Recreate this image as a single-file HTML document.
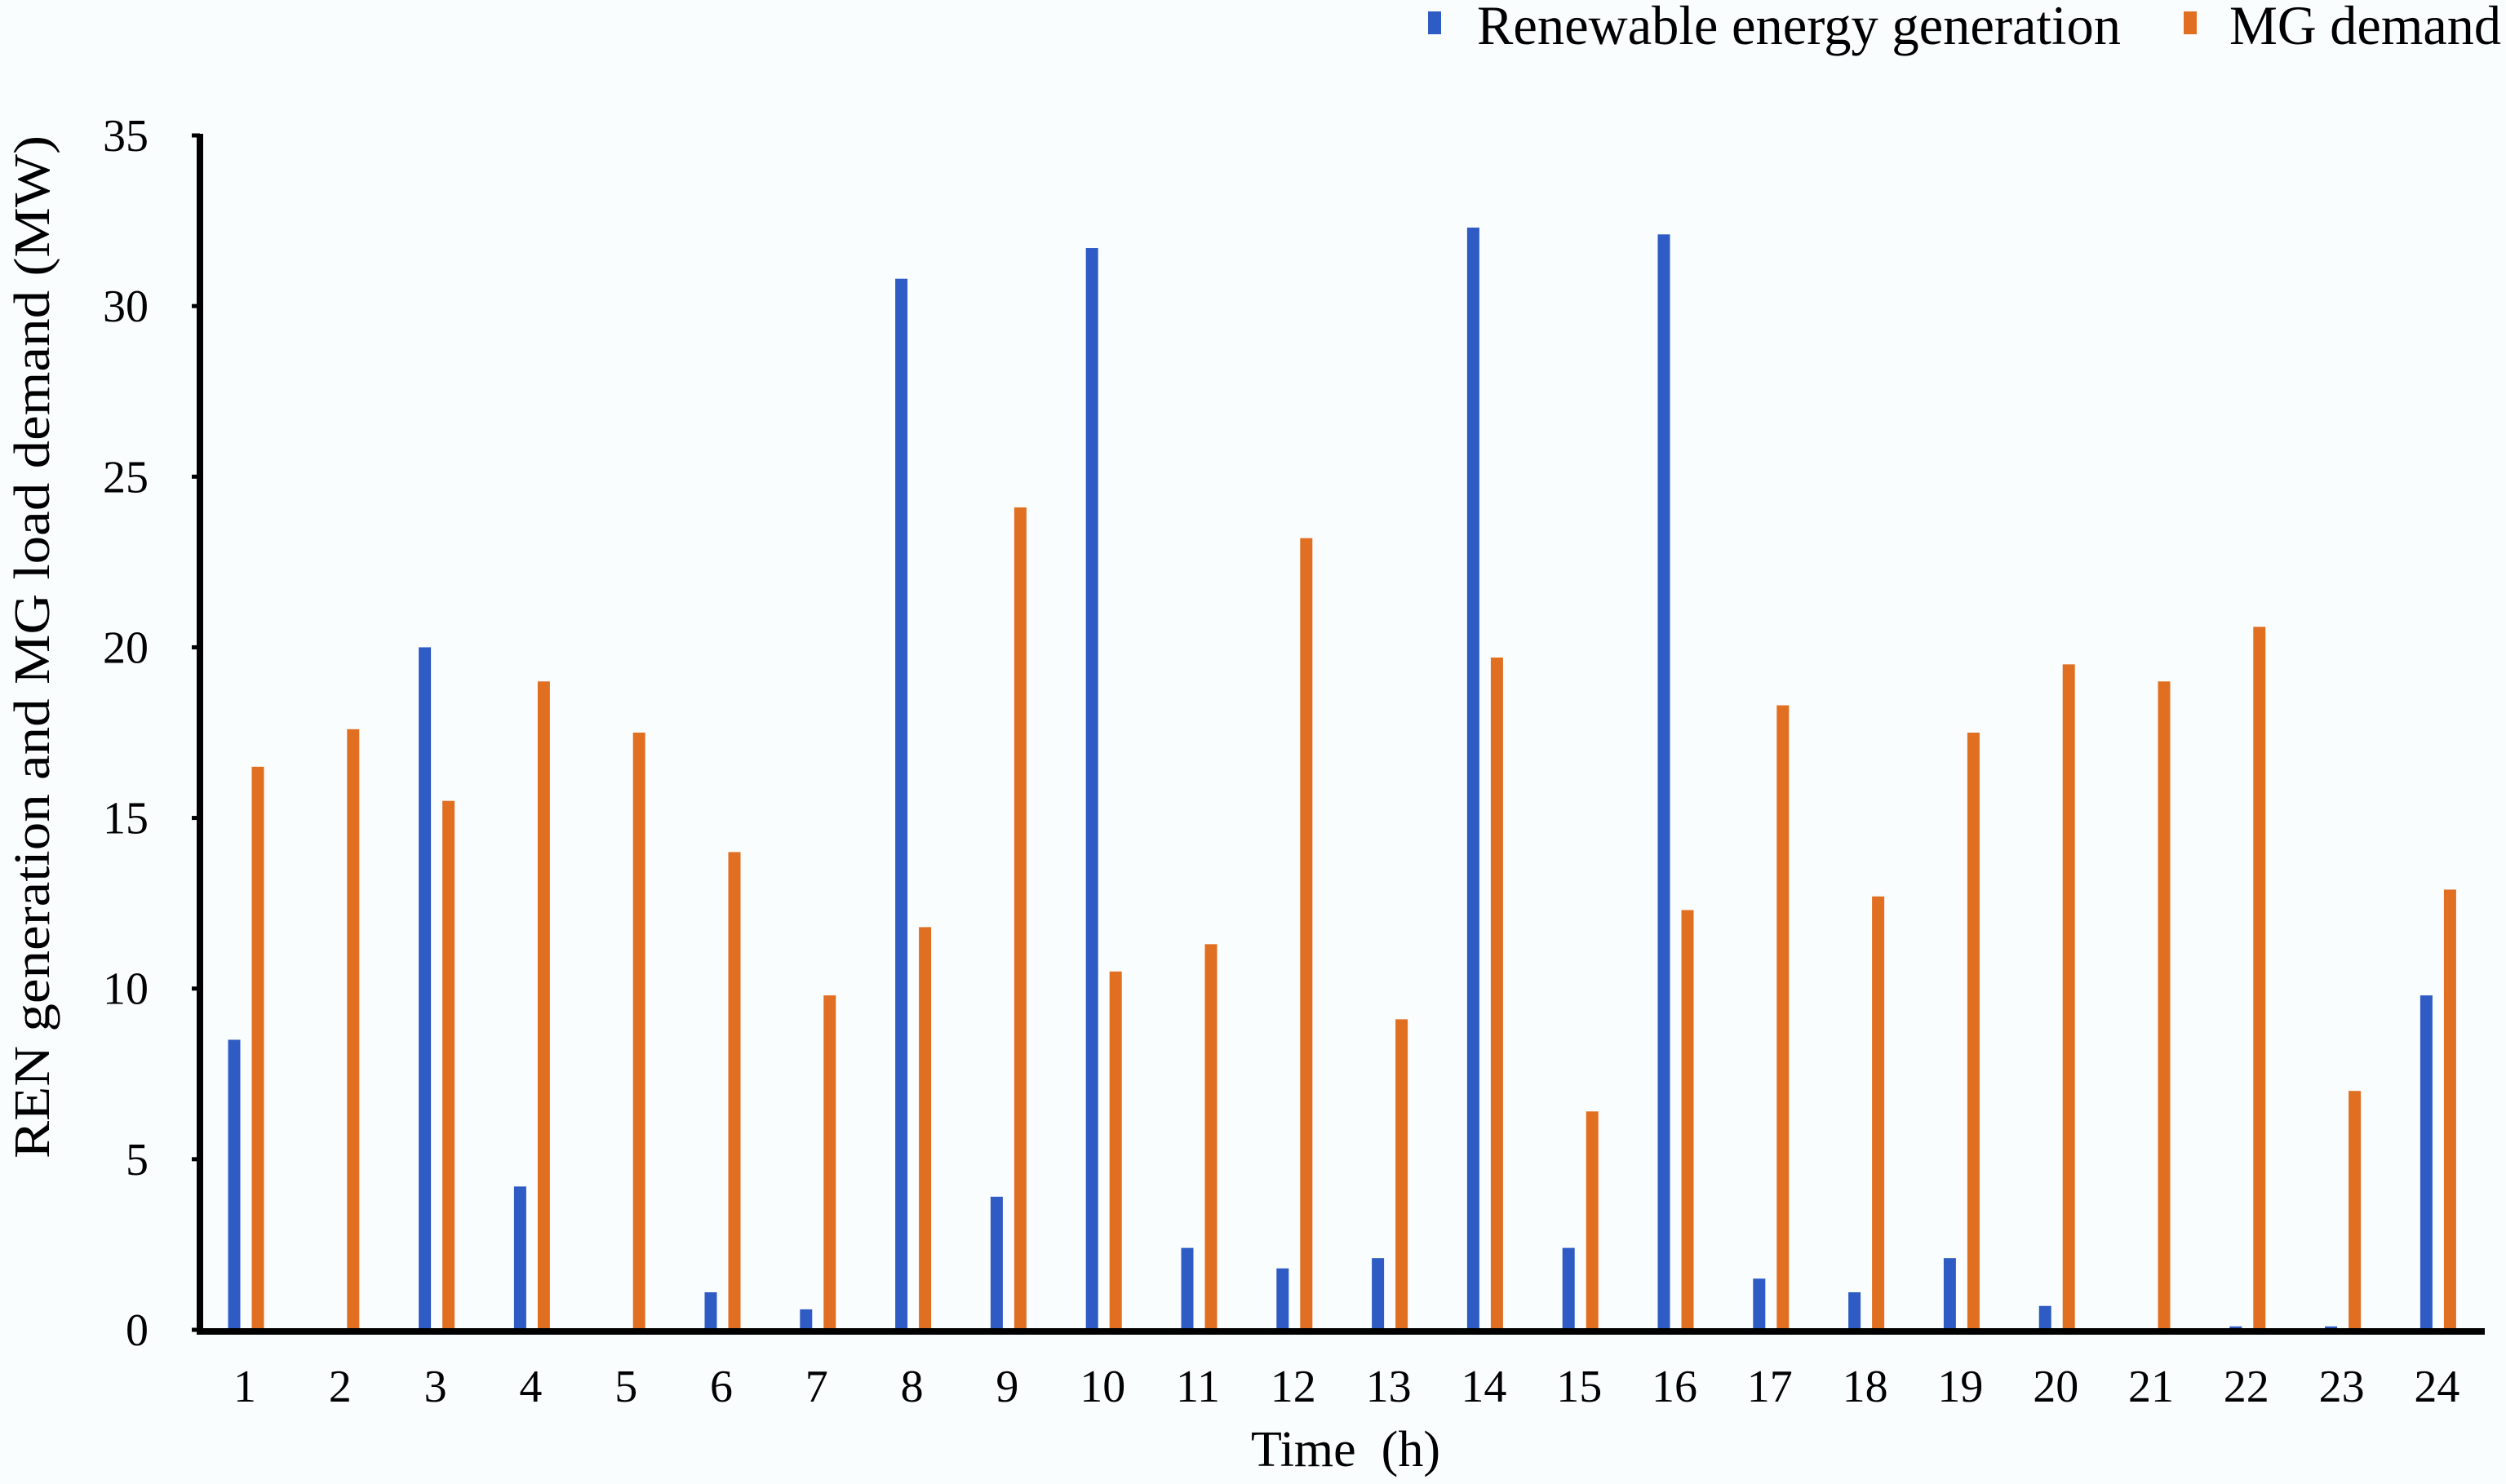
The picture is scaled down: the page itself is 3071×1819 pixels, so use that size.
<!DOCTYPE html>
<html><head><meta charset="utf-8"><style>
html,body{margin:0;padding:0;background:#fafdfe;}
svg{display:block;font-family:"Liberation Serif",serif;}
</style></head><body>
<svg id="chart" width="3071" height="1819" viewBox="0 0 3071 1819">
<rect width="3071" height="1819" fill="#fafdfe"/>
<g id="bars"></g>
<g id="axes"></g>
<text x="40" y="793" font-size="62" text-anchor="middle" textLength="1254" lengthAdjust="spacingAndGlyphs" transform="rotate(-90 40 793)" dominant-baseline="central">REN generation and MG load demand (MW)</text>
<text x="1649" y="1797" font-size="62" text-anchor="middle" xml:space="preserve">Time  (h)</text>
<g>
<rect x="1750" y="14" width="16" height="28" fill="#2f5cc4"/>
<text x="1810" y="54" font-size="68" textLength="789" lengthAdjust="spacingAndGlyphs">Renewable energy generation</text>
<rect x="2676" y="14" width="16" height="28" fill="#e06f22"/>
<text x="2732" y="54" font-size="68" textLength="333" lengthAdjust="spacingAndGlyphs">MG demand</text>
</g>
</svg>
<script>
const categories = ["1","2","3","4","5","6","7","8","9","10","11","12","13","14","15","16","17","18","19","20","21","22","23","24"];
const renewable = [8.5,0,20,4.2,0,1.1,0.6,30.8,3.9,31.7,2.4,1.8,2.1,32.3,2.4,32.1,1.5,1.1,2.1,0.7,0,0.1,0.1,9.8];
const demand = [16.5,17.6,15.5,19,17.5,14,9.8,11.8,24.1,10.5,11.3,23.2,9.1,19.7,6.4,12.3,18.3,12.7,17.5,19.5,19,20.6,7,12.9];
const yTicks = [0,5,10,15,20,25,30,35];

const NS = "http://www.w3.org/2000/svg";
const X0 = 300, STEP = 116.8, Y0 = 1630, YTOP = 166, YMAX = 35;
const xPos = i => X0 + i * STEP;
const yPos = v => Y0 - (v / YMAX) * (Y0 - YTOP);
function mk(tag, attrs, parent){const e=document.createElementNS(NS,tag);for(const k in attrs)e.setAttribute(k,attrs[k]);parent.appendChild(e);return e;}
const bars = document.getElementById('bars');
const axes = document.getElementById('axes');
const BW = 15;
categories.forEach((c,i)=>{
  const cx = xPos(i);
  const b = mk('rect',{x:cx-13-BW/2,y:yPos(renewable[i]),width:BW,height:Y0-yPos(renewable[i]),fill:'#2f5cc4'},bars);
  
  
  const o = mk('rect',{x:cx+16-BW/2,y:yPos(demand[i]),width:BW,height:Y0-yPos(demand[i]),fill:'#e06f22'},bars);
  
  
  const t = mk('text',{x:cx,y:1718,'font-size':56,'text-anchor':'middle'},axes);
  t.textContent = c;
  
  
});
yTicks.forEach(v=>{
  const t = mk('text',{x:182,y:yPos(v)+19,'font-size':56,'text-anchor':'end'},axes);
  t.textContent = v;
  
  
  const tk = mk('line',{x1:235,x2:245,y1:yPos(v),y2:yPos(v),stroke:'#000','stroke-width':5},axes);
  
  
});
const ya = mk('line',{x1:245,x2:245,y1:YTOP-2,y2:Y0+4,stroke:'#000','stroke-width':8},axes);


const xa = mk('line',{x1:241,x2:3045,y1:Y0+2,y2:Y0+2,stroke:'#000','stroke-width':8},axes);


</script>
</body></html>
